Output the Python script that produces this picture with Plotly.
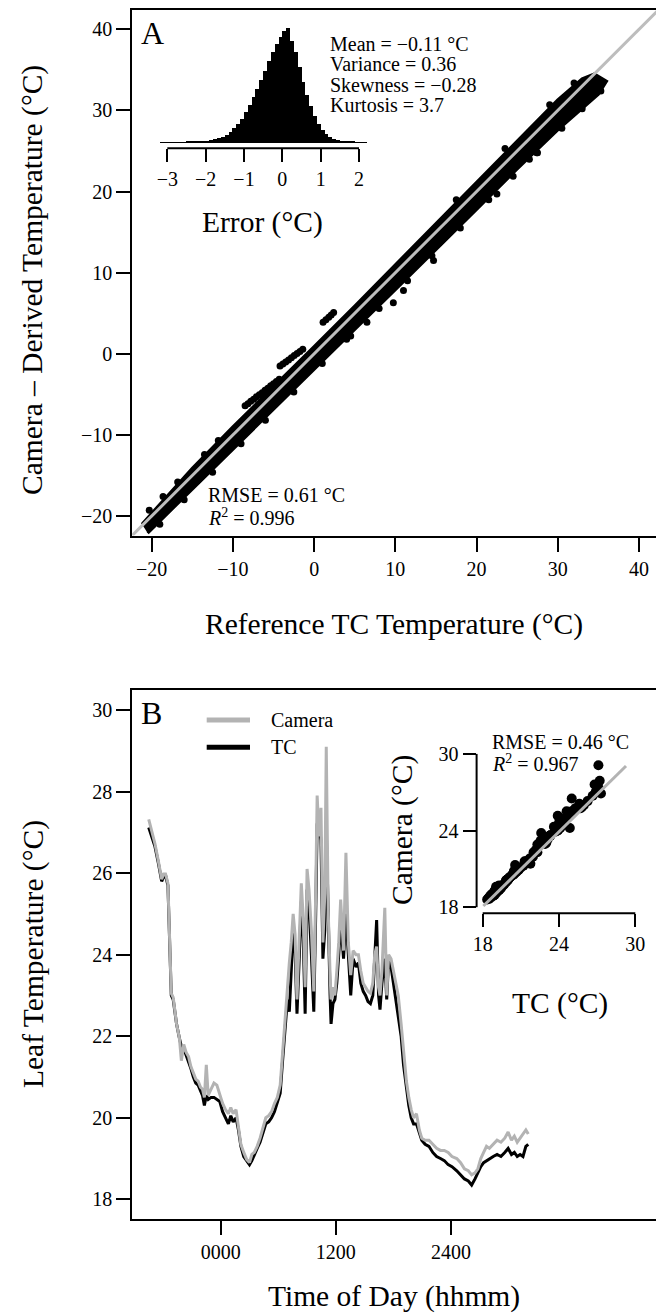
import plotly.graph_objects as go

W, H = 656, 1313
FONT = "Liberation Serif"


def px(x):
    return x / W


def py(y):
    return 1 - y / H


# ---------------- Panel A data ----------------
# error histogram (bin centres, relative counts)
err_bins = [-3.15, -3.05, -2.95, -2.85, -2.75, -2.65, -2.55, -2.45, -2.35, -2.25,
            -2.15, -2.05, -1.95, -1.85, -1.75, -1.65, -1.55, -1.45, -1.35, -1.25,
            -1.15, -1.05, -0.95, -0.85, -0.75, -0.65, -0.55, -0.45, -0.35, -0.25,
            -0.15, -0.05, 0.05, 0.15, 0.25, 0.35, 0.45, 0.55, 0.65, 0.75,
            0.85, 0.95, 1.05, 1.15, 1.25, 1.35, 1.45, 1.55, 1.65, 1.75,
            1.85, 1.95, 2.05, 2.15]
err_counts = [2, 2, 3, 3, 4, 5, 6, 7, 9, 11,
              13, 16, 19, 24, 30, 38, 50, 68, 95, 125,
              165, 210, 265, 330, 400, 470, 545, 630, 715, 795,
              860, 920, 975, 1000, 890, 790, 660, 530, 420, 320,
              230, 160, 110, 75, 50, 35, 25, 18, 13, 10,
              7, 6, 4, 3]
err_ticks = [-3, -2, -1, 0, 1, 2]

# dense core of the camera vs reference cloud (outline: upper edge, then lower edge)
band_ref = [-21.2, -15.0, -10.0, -5.0, 0.0, 5.0, 10.0, 15.0, 20.0, 25.0, 30.0, 33.0, 34.5,
            36.0, 35.0, 30.0, 25.0, 20.0, 15.0, 10.0, 5.0, 0.0, -5.0, -10.0, -15.0, -20.5]
band_cam = [-21.0, -14.1, -9.0, -4.1, 0.9, 5.9, 11.0, 16.1, 21.2, 26.3, 31.3, 33.9, 34.5,
            33.6, 32.0, 27.6, 22.8, 17.8, 12.8, 7.9, 3.0, -1.9, -6.8, -11.7, -16.7, -22.1]

# individual points on the fringe of the cloud
pts_ref = [-20.3, -18.6, -16.8, -13.5, -11.8,
           -8.5, -8.15, -7.8, -7.45, -7.1, -6.75, -6.4, -6.05, -5.7, -5.35, -5.0, -4.65, -4.3,
           -4.2, -3.85, -3.5, -3.15, -2.8, -2.45, -2.1, -1.75, -1.4,
           1.1, 1.45, 1.8, 2.1, 2.4,
           -19.0, -16.0, -12.5, -9.0, -6.0, -2.5, 1.0, 4.5, 8.0, 11.5, 14.5, 18.0,
           21.5, 24.5, 27.5, 30.5, 33.0, 35.3,
           11.0, 9.75, 6.5, 4.0, 14.7, 22.5, 27.4, 26.5, 17.5, 23.5, 29.0, 32.0]
pts_cam = [-19.3, -17.6, -15.8, -12.4, -10.7,
           -6.4, -6.15, -5.85, -5.6, -5.3, -5.05, -4.8, -4.5, -4.25, -3.95, -3.7, -3.4, -3.15,
           -1.5, -1.25, -1.0, -0.75, -0.5, -0.2, 0.05, 0.3, 0.55,
           3.9, 4.2, 4.5, 4.8, 5.1,
           -21.0, -18.0, -14.6, -11.1, -8.2, -4.7, -1.2, 2.2, 5.6, 9.0, 12.1, 15.5,
           19.0, 21.9, 24.8, 27.8, 30.2, 32.4,
           7.8, 6.3, 3.9, 1.8, 11.5, 19.7, 24.8, 24.0, 19.0, 25.3, 30.7, 33.4]

a_ticks = [-20, -10, 0, 10, 20, 30, 40]

# ---------------- Panel B data ----------------
hours = [-7.5, -7.2, -6.85, -6.5, -6.15, -5.95, -5.75, -5.5, -5.3, -5.15,
         -4.95, -4.6, -4.3, -4.1, -3.85, -3.6, -3.35, -3.1, -2.85, -2.6,
         -2.35, -2.1, -1.9, -1.7, -1.5, -1.3, -1.0, -0.7, -0.4, -0.1,
         0.2, 0.5, 0.8, 1.05, 1.3, 1.6, 1.85, 2.1, 2.4, 2.7,
         3.0, 3.25, 3.5, 3.8, 4.1, 4.4, 4.7, 5.0, 5.3, 5.6,
         5.9, 6.2, 6.45, 6.7, 6.95, 7.15, 7.35, 7.55, 7.75, 7.95,
         8.15, 8.4, 8.6, 8.8, 9.0, 9.2, 9.45, 9.7, 9.9, 10.05,
         10.25, 10.45, 10.65, 10.85, 11.0, 11.2, 11.4, 11.5, 11.7, 11.9,
         12.1, 12.3, 12.5, 12.7, 12.8, 13.05, 13.3, 13.55, 13.8, 14.1,
         14.35, 14.6, 14.85, 15.1, 15.35, 15.6, 15.85, 16.05, 16.25, 16.45,
         16.6, 16.8, 17.1, 17.3, 17.5, 17.75, 18.0, 18.25, 18.5, 18.8,
         19.05, 19.35, 19.6, 19.85, 20.1, 20.4, 20.7, 20.95, 21.3, 21.7,
         22.1, 22.5, 22.9, 23.3, 23.7, 24.1, 24.6, 25.0, 25.4, 25.8,
         26.15, 26.5, 26.8, 27.1, 27.4, 27.7, 28.0, 28.4, 28.8, 29.2,
         29.6, 29.95, 30.3, 30.6, 30.9, 31.2, 31.5, 31.8, 32.05]
camera = [27.32, 27.05, 26.72, 26.3, 25.85, 25.98, 25.98, 25.75, 24.2, 23.05,
          22.95, 22.3, 21.95, 21.4, 21.8, 21.6, 21.5, 21.25, 21.1, 20.95,
          20.9, 20.75, 20.7, 20.5, 21.3, 20.55, 20.7, 20.85, 20.8, 20.55,
          20.35, 20.2, 20.1, 20.25, 20.1, 20.2, 19.8, 19.35, 19.15, 18.98,
          18.9, 19.1, 19.15, 19.3, 19.5, 19.75, 20.0, 20.05, 20.15, 20.35,
          20.5, 20.8, 21.6, 22.5, 23.4, 23.8, 24.3, 25.0, 24.5, 22.9,
          24.2, 25.75, 24.9, 23.2, 26.1, 25.6, 24.6, 23.1, 25.5, 27.9,
          26.9, 27.6, 24.3, 25.5, 29.1, 25.1, 23.5, 22.9, 23.2, 23.0,
          23.6, 24.3, 25.35, 24.5, 24.1, 26.5, 24.3, 23.5, 24.1, 24.0,
          24.0, 23.6, 23.3, 23.2, 23.1, 23.05, 23.3, 24.0, 24.2, 23.2,
          23.0, 23.6, 25.15, 23.0, 24.0, 23.9, 23.6, 23.3, 23.0, 22.3,
          21.6, 20.9, 20.5, 20.2, 20.0, 20.1, 19.7, 19.5, 19.45, 19.45,
          19.35, 19.25, 19.2, 19.2, 19.15, 19.05, 19.0, 18.9, 18.75, 18.7,
          18.6, 18.65, 18.75, 19.0, 19.15, 19.3, 19.25, 19.35, 19.45, 19.4,
          19.5, 19.65, 19.45, 19.55, 19.4, 19.5, 19.6, 19.7, 19.6]
tc = [27.12, 26.9, 26.65, 26.25, 25.8, 25.9, 25.95, 25.7, 24.1, 23.0,
      22.9, 22.3, 21.95, 21.75, 21.7, 21.55, 21.4, 21.2, 21.0, 20.85,
      20.8, 20.65, 20.55, 20.3, 20.55, 20.45, 20.5, 20.5, 20.45, 20.4,
      20.15, 20.0, 19.85, 20.05, 19.9, 20.0, 19.7, 19.3, 19.05, 18.95,
      18.85, 18.95, 19.1, 19.25, 19.4, 19.6, 19.85, 19.9, 20.0, 20.15,
      20.35, 20.6, 21.4, 22.2, 22.9, 22.6, 23.6, 24.6, 24.1, 22.55,
      23.7, 25.3, 24.4, 22.55, 25.6, 25.2, 24.0, 22.6, 25.0, 27.2,
      27.3, 26.8, 23.9, 24.6, 27.1, 24.6, 23.0, 22.3, 22.8, 22.9,
      23.3, 24.0, 24.8, 24.2, 23.9, 25.0, 24.0, 23.0, 23.9, 23.7,
      23.8, 23.3, 23.1, 23.0, 22.85, 22.8, 23.0, 23.9, 24.85, 23.0,
      22.65, 23.3, 23.9, 22.9, 23.9, 23.7, 23.3, 22.9, 22.5, 22.0,
      21.3, 20.7, 20.3, 20.0, 19.85, 19.85, 19.6, 19.45, 19.35, 19.3,
      19.15, 19.05, 19.0, 18.95, 18.85, 18.8, 18.7, 18.6, 18.5, 18.45,
      18.35, 18.5, 18.65, 18.8, 18.9, 18.95, 19.0, 19.05, 19.1, 19.05,
      19.15, 19.25, 19.1, 19.15, 19.05, 19.1, 19.05, 19.3, 19.35]
b_time_ticks = [0, 12, 24]
b_time_labels = ["0000", "1200", "2400"]
b_temp_ticks = [18, 20, 22, 24, 26, 28, 30]
inset_ticks = [18, 24, 30]


def lab(v):
    return str(v).replace("-", "\u2212")


fig = go.Figure()

# ---- Panel A main ----
fig.add_trace(go.Scatter(x=band_ref, y=band_cam, mode="lines", fill="toself",
                         fillcolor="black", line=dict(color="black", width=3),
                         xaxis="x", yaxis="y", showlegend=False, hoverinfo="skip"))
fig.add_trace(go.Scatter(x=pts_ref, y=pts_cam, mode="markers",
                         marker=dict(color="black", size=7),
                         xaxis="x", yaxis="y", showlegend=False))
fig.add_trace(go.Scatter(x=[-22.4, 42.4], y=[-22.4, 42.4], mode="lines",
                         line=dict(color="#bdbdbd", width=3),
                         xaxis="x", yaxis="y", showlegend=False))

# ---- Panel A inset histogram ----
fig.add_trace(go.Bar(x=err_bins, y=err_counts, width=0.1,
                     marker=dict(color="black", line=dict(width=0)),
                     xaxis="x2", yaxis="y2", showlegend=False))

# ---- Panel B main ----
fig.add_trace(go.Scatter(x=hours, y=tc, mode="lines", name="TC",
                         line=dict(color="black", width=3),
                         xaxis="x3", yaxis="y3", showlegend=False))
fig.add_trace(go.Scatter(x=hours, y=camera, mode="lines", name="Camera",
                         line=dict(color="#b3b3b3", width=3),
                         xaxis="x3", yaxis="y3", showlegend=False))

# ---- Panel B inset ----
fig.add_trace(go.Scatter(x=tc, y=camera, mode="markers",
                         marker=dict(color="black", size=10),
                         xaxis="x4", yaxis="y4", showlegend=False))
fig.add_trace(go.Scatter(x=[18.05, 29.27], y=[18.09, 29.05], mode="lines",
                         line=dict(color="#b3b3b3", width=3),
                         xaxis="x4", yaxis="y4", showlegend=False))

tick_common = dict(ticks="outside", ticklen=14, tickwidth=2, tickcolor="black",
                   showgrid=False, zeroline=False, automargin=False,
                   tickfont=dict(family=FONT, size=20, color="black"))
inset_tick = dict(showline=False, ticklen=13, ticks="outside", tickwidth=2,
                  tickcolor="black", showgrid=False, zeroline=False, automargin=False,
                  tickfont=dict(family=FONT, size=20, color="black"))

fig.update_layout(
    width=W, height=H, margin=dict(l=0, r=0, t=0, b=0),
    paper_bgcolor="white", plot_bgcolor="rgba(0,0,0,0)",
    bargap=0, showlegend=False,
    font=dict(family=FONT, size=20, color="black"),
    xaxis=dict(domain=[px(132.2), 1.0], range=[-22.4, 42.09], anchor="y",
               tickvals=a_ticks, ticktext=[lab(v) for v in a_ticks],
               showline=True, linecolor="black", linewidth=2, mirror=True,
               **tick_common),
    yaxis=dict(domain=[py(535.5), py(9.9)], range=[-22.4, 42.4], anchor="x",
               tickvals=a_ticks, ticktext=[lab(v) for v in a_ticks],
               showline=True, linecolor="black", linewidth=2, mirror=False,
               **tick_common),
    xaxis2=dict(domain=[px(155), px(375)], range=[-3.321, 2.417], anchor="y2",
                tickvals=err_ticks, ticktext=[lab(v) for v in err_ticks],
                **inset_tick),
    yaxis2=dict(domain=[py(148.3), py(20)], range=[-48.96, 1072.6], anchor="x2",
                showticklabels=False, ticks="", showline=False, showgrid=False,
                zeroline=False),
    xaxis3=dict(domain=[px(132.2), 1.0], range=[-9.222, 45.36], anchor="y3",
                tickvals=b_time_ticks, ticktext=b_time_labels,
                showline=True, linecolor="black", linewidth=2, mirror=True,
                **tick_common),
    yaxis3=dict(domain=[py(1218.9), py(690.4)], range=[17.52, 30.48], anchor="x3",
                tickvals=b_temp_ticks, ticktext=[lab(v) for v in b_temp_ticks],
                showline=True, linecolor="black", linewidth=2, mirror=False,
                **tick_common),
    xaxis4=dict(domain=[px(476.6), px(641.4)], range=[17.52, 30.48], anchor="y4",
                tickvals=inset_ticks, ticktext=[lab(v) for v in inset_ticks],
                **inset_tick),
    yaxis4=dict(domain=[py(913.3), py(747.7)], range=[17.52, 30.48], anchor="x4",
                tickvals=inset_ticks, ticktext=[lab(v) for v in inset_ticks],
                **inset_tick),
)

shapes = [
    # histogram inset axis line (from -3 to 2)
    dict(type="line", xref="paper", yref="paper", x0=px(167.3), x1=px(359.0),
         y0=py(148.3), y1=py(148.3), line=dict(color="black", width=2)),
    # panel B inset axis lines
    dict(type="line", xref="paper", yref="paper", x0=px(476.6), x1=px(476.6),
         y0=py(907.2), y1=py(753.9), line=dict(color="black", width=2)),
    dict(type="line", xref="paper", yref="paper", x0=px(482.7), x1=px(635.3),
         y0=py(913.3), y1=py(913.3), line=dict(color="black", width=2)),
    # legend samples
    dict(type="line", xref="paper", yref="paper", x0=px(206.7), x1=px(250),
         y0=py(720), y1=py(720), line=dict(color="#b3b3b3", width=5)),
    dict(type="line", xref="paper", yref="paper", x0=px(206.7), x1=px(250),
         y0=py(747.3), y1=py(747.3), line=dict(color="black", width=5)),
]
fig.update_layout(shapes=shapes)


def ann(text, x, y, size=20, xanchor="left", angle=0):
    return dict(text=text, x=px(x), y=py(y), xref="paper", yref="paper",
                xanchor=xanchor, yanchor="middle", showarrow=False,
                textangle=angle, font=dict(family=FONT, size=size, color="black"))


annotations = [
    ann("A", 152, 33, size=32, xanchor="center"),
    ann("Mean = \u22120.11 \u00b0C", 328, 44),
    ann("Variance = 0.36", 328, 64.5),
    ann("Skewness = \u22120.28", 328, 84.5),
    ann("Kurtosis = 3.7", 328, 104.5),
    ann("Error (\u00b0C)", 262, 222, size=29.5, xanchor="center"),
    ann("RMSE = 0.61 \u00b0C", 206, 495),
    ann("<i>R</i><sup>2</sup> = 0.996", 206, 516.5),
    ann("Reference TC Temperature (\u00b0C)", 394, 625, size=29.5, xanchor="center"),
    ann("Camera \u2013 Derived Temperature (\u00b0C)", 33, 280, size=29.5,
        xanchor="center", angle=-90),
    ann("B", 151, 712.5, size=32, xanchor="center"),
    ann("Camera", 269, 720),
    ann("TC", 269, 747.3),
    ann("RMSE = 0.46 \u00b0C", 490, 741.7),
    ann("<i>R</i><sup>2</sup> = 0.967", 490, 763.3),
    ann("Camera (\u00b0C)", 402, 830, size=29.5, xanchor="center", angle=-90),
    ann("TC (\u00b0C)", 560, 1003, size=29.5, xanchor="center"),
    ann("Time of Day (hhmm)", 394, 1296, size=29.5, xanchor="center"),
    ann("Leaf Temperature (\u00b0C)", 33, 954, size=29.5, xanchor="center", angle=-90),
]
fig.update_layout(annotations=annotations)

fig.write_html("out.html",
               config={"displayModeBar": False},
               post_script="document.body.style.margin='0px';"
                           "document.body.style.padding='0px';")
